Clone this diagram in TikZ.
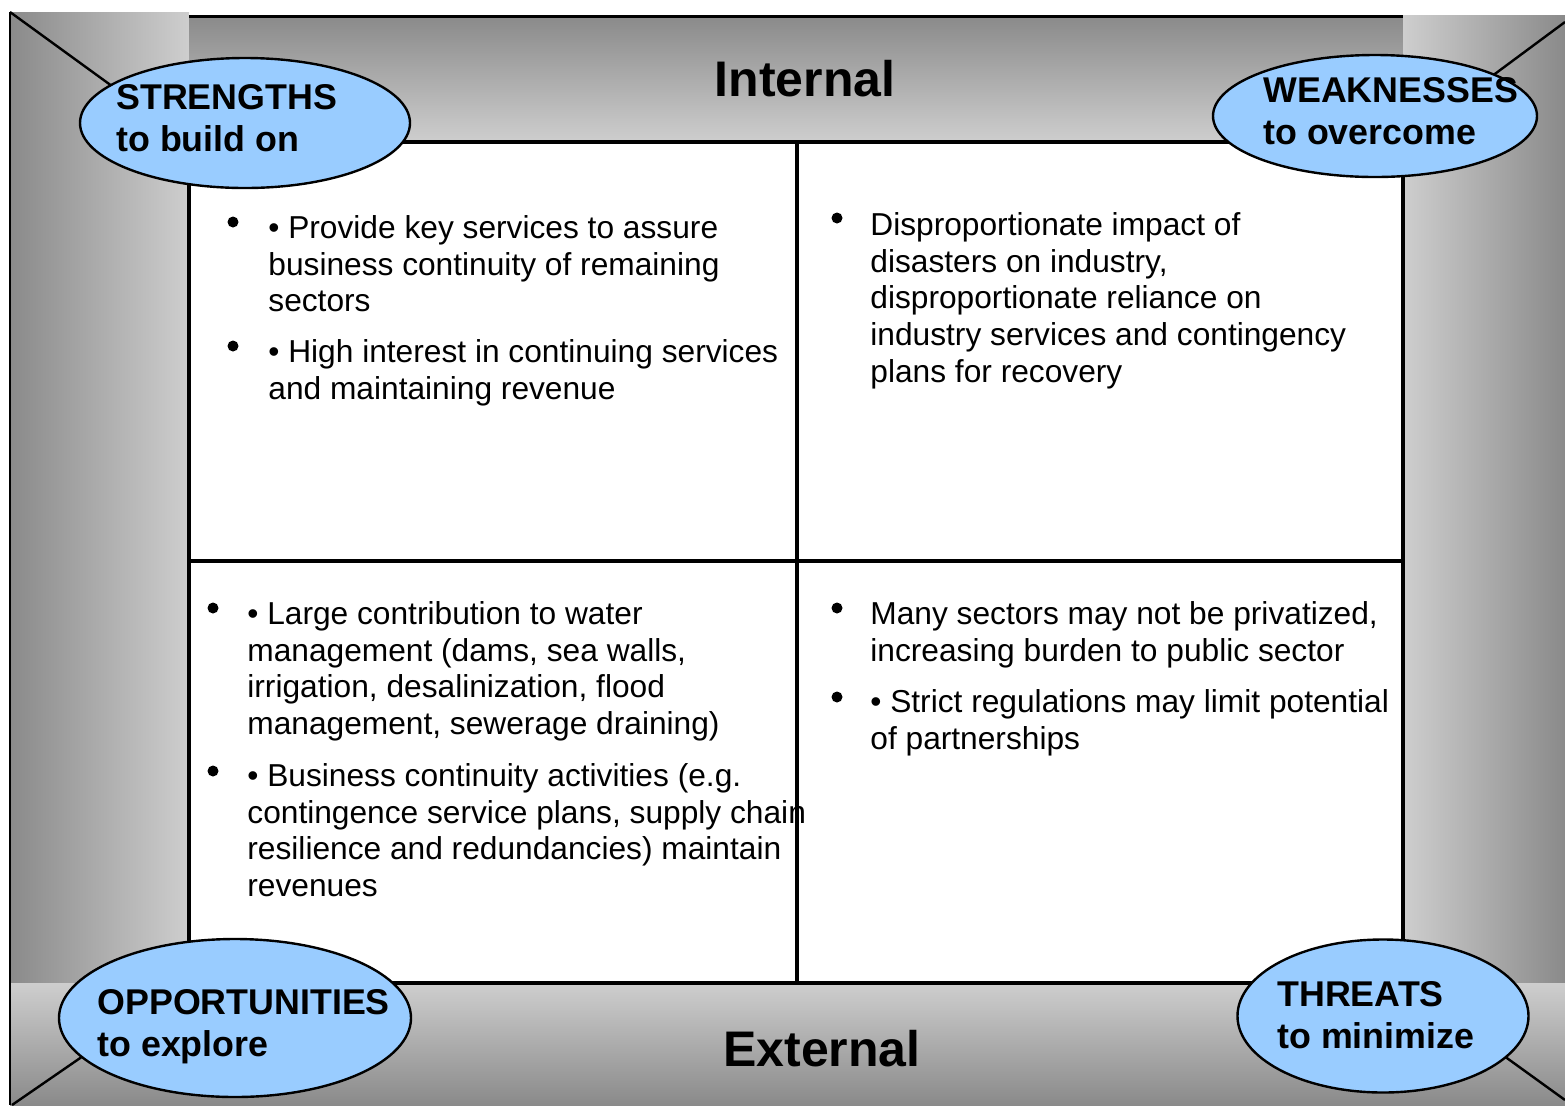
\documentclass[tikz,border=0pt]{standalone}
\usepackage{fontspec}
\setmainfont{Liberation Sans}
\usetikzlibrary{shapes.geometric}
\definecolor{framedark}{RGB}{138,138,138}
\definecolor{framelight}{RGB}{206,206,206}
\definecolor{ovalblue}{RGB}{153,204,255}
\tikzset{
  corner_oval/.style={ellipse,draw=black,line width=1.2pt,fill=ovalblue,inner sep=0pt},
  oval_text/.style={anchor=north west,align=left,inner sep=0pt,font=\bfseries\fontsize{17.9}{21}\selectfont},
  side_title/.style={anchor=base,inner sep=0pt,font=\bfseries\fontsize{25}{30}\selectfont},
  item_text/.style={anchor=north west,align=left,inner sep=0pt,font=\fontsize{15.85}{18.35}\selectfont},
  big_dot/.style={circle,fill=black,inner sep=0pt,minimum size=5.5pt},
  grid_line/.style={line width=1.6pt}
}
\begin{document}
\begin{tikzpicture}[x=0.5pt,y=-0.5pt]
    \useasboundingbox (0,0) rectangle (1565,1105);
    % grey frame round the grid
    \shade[left color=framedark,right color=framelight] (10,12) rectangle (189,983);
    \shade[top color=framedark,bottom color=framelight] (189,16) rectangle (1403,142);
    \shade[left color=framelight,right color=framedark] (1403,15) rectangle (1565,983);
    \shade[top color=framelight,bottom color=framedark] (10,983) rectangle (1565,1105);
    \draw[line width=0.8pt] (10,12) -- (10,1105);
    \draw[line width=1.5pt] (189,16) -- (1403,16);

    \coordinate (out_tl) at (10,12);
    \coordinate (out_tr) at (1565,22);
    \coordinate (out_bl) at (12,1105);
    \coordinate (out_br) at (1565,1100);
    \coordinate (in_tl) at (189,142);
    \coordinate (in_tr) at (1403,142);
    \coordinate (in_bl) at (189,983);
    \coordinate (in_br) at (1403,983);
    \draw[line width=1.2pt] (out_tl) -- (in_tl);
    \draw[line width=1.2pt] (out_tr) -- (in_tr);
    \draw[line width=1.2pt] (out_bl) -- (in_bl);
    \draw[line width=1.2pt] (out_br) -- (in_br);

    % the four boxes
    \coordinate (mid_t) at (797,142);
    \coordinate (mid_b) at (797,983);
    \coordinate (mid_l) at (189,561);
    \coordinate (mid_r) at (1403,561);
    \fill[white] (in_tl) rectangle (in_br);
    \draw[grid_line] (in_tl) rectangle (in_br);
    \draw[grid_line] (mid_t) -- (mid_b);
    \draw[grid_line] (mid_l) -- (mid_r);

    \node[side_title] (internal) at (805,96) {Internal};
    \node[side_title] (external) at (822,1066) {External};

    \node[corner_oval,minimum width=165pt,minimum height=65pt] (strengths) at (245,123) {};
    \node[corner_oval,minimum width=162pt,minimum height=61pt] (weaknesses) at (1375,116) {};
    \node[corner_oval,minimum width=176pt,minimum height=79pt] (opportunities) at (235,1018) {};
    \node[corner_oval,minimum width=145.5pt,minimum height=76.5pt] (threats) at (1383,1016) {};
    \node[oval_text] (strengths_txt) at (116,84) {STRENGTHS\\to build on};
    \node[oval_text] (weaknesses_txt) at (1263,77) {WEAKNESSES\\to overcome};
    \node[oval_text] (opportunities_txt) at (97,989) {OPPORTUNITIES\\to explore};
    \node[oval_text] (threats_txt) at (1277,981) {THREATS\\to minimize};

    % strengths
    \node[big_dot] (s_dot1) at (233,222) {};
    \node[big_dot] (s_dot2) at (233,346) {};
    \node[item_text] (s_item1) at (268,215) {• Provide key services to assure\\business continuity of remaining\\sectors};
    \node[item_text] (s_item2) at (268,339) {• High interest in continuing services\\and maintaining revenue};
    % weaknesses
    \node[big_dot] (w_dot1) at (837,218) {};
    \node[item_text] (w_item1) at (870,212) {Disproportionate impact of\\disasters on industry,\\disproportionate reliance on\\industry services and contingency\\plans for recovery};
    % opportunities
    \node[big_dot] (o_dot1) at (213,608) {};
    \node[big_dot] (o_dot2) at (213,771) {};
    \node[item_text] (o_item1) at (247,601) {• Large contribution to water\\management (dams, sea walls,\\irrigation, desalinization, flood\\management, sewerage draining)};
    \node[item_text] (o_item2) at (247,763) {• Business continuity activities (e.g.\\contingence service plans, supply chain\\resilience and redundancies) maintain\\revenues};
    % threats
    \node[big_dot] (t_dot1) at (837,608) {};
    \node[big_dot] (t_dot2) at (837,697) {};
    \node[item_text] (t_item1) at (870,601) {Many sectors may not be privatized,\\increasing burden to public sector};
    \node[item_text] (t_item2) at (870,689) {• Strict regulations may limit potential\\of partnerships};
\end{tikzpicture}
\end{document}
